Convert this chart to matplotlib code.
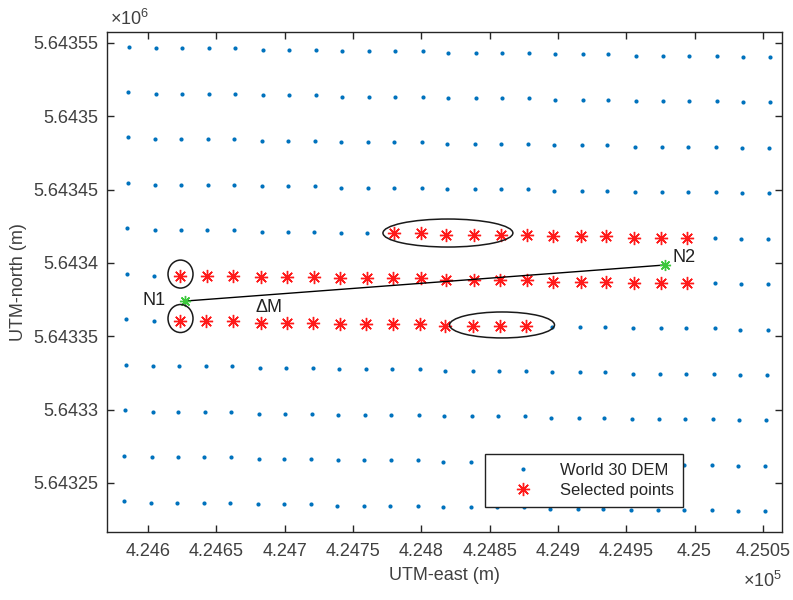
import matplotlib
matplotlib.use("Agg")
import matplotlib.pyplot as plt
from matplotlib.patches import Ellipse
from matplotlib.ticker import FuncFormatter, FixedLocator
from matplotlib.lines import Line2D
import numpy as np

plt.rcParams['font.family'] = ['Liberation Sans', 'DejaVu Sans']
plt.rcParams['mathtext.fontset'] = 'custom'
plt.rcParams['mathtext.rm'] = 'Liberation Sans'
plt.rcParams['mathtext.it'] = 'Liberation Sans:italic'

# ---------------- data ----------------
# World 30 DEM grid: eastings of the columns along the top row (m)
col_east = [424585.9, 424605.9, 424624.9, 424644.6, 424663.7, 424684.2, 424703.2,
            424722.9, 424742.0, 424761.7, 424780.8, 424801.2, 424819.5, 424840.0,
            424859.1, 424878.8, 424897.8, 424918.3, 424936.6, 424957.1, 424976.9,
            424995.9, 425016.4, 425035.4, 425055.2]
# northings of the rows along the left column (m)
row_north = [5643547.6, 5643516.6, 5643485.6, 5643454.6, 5643423.6, 5643392.6,
             5643361.6, 5643330.6, 5643299.6, 5643268.6, 5643237.6]
# small tilt of the lat/lon grid in UTM: northing drop per column, easting shift per row (m)
col_drop = [0.0, 1.2, 1.2, 1.2, 1.2, 2.3, 2.3, 2.3, 3.2, 3.2, 3.2, 3.2, 4.3,
            4.3, 4.3, 4.3, 5.3, 5.3, 5.3, 6.3, 6.3, 6.3, 6.3, 7.0, 7.0]
row_shift = [0.0, -0.2, -0.5, -0.7, -1.1, -1.5, -1.8, -2.2, -2.6, -3.3, -3.7]

# selected points: grid row index with first/last selected column index
sel_rows = [4, 5, 6]
sel_first = [10, 2, 2]
sel_last = [21, 21, 15]

# profile end points N1, N2 (m)
n1_e, n1_n = 424627.1, 5643374.0
n2_e, n2_n = 424978.3, 5643398.6

x_ticks = [424600, 424650, 424700, 424750, 424800, 424850, 424900, 424950, 425000, 425050]
y_ticks = [5643250, 5643300, 5643350, 5643400, 5643450, 5643500, 5643550]

# ---------------- figure ----------------
fig = plt.figure(figsize=(7.93, 6.0), dpi=100)
ax = fig.add_axes([107 / 793, 68 / 600, 675 / 793, 500 / 600])

E = np.array(col_east)[None, :] + np.array(row_shift)[:, None]
N = np.array(row_north)[:, None] - np.array(col_drop)[None, :]

blue = '#0072BD'
ax.plot(E.ravel(), N.ravel(), linestyle='none', marker='o', markersize=3.0,
        markerfacecolor=blue, markeredgecolor='none', zorder=2)

se, sn = [], []
for r, a, b in zip(sel_rows, sel_first, sel_last):
    se.extend(E[r, a:b + 1])
    sn.extend(N[r, a:b + 1])
star = (8, 2, 0)
ax.plot(se, sn, linestyle='none', marker=star, markersize=9.5, markeredgewidth=1.0,
        color='#ff1a1a', zorder=3)

# profile line and end points
ax.plot([n1_e, n2_e], [n1_n, n2_n], color='black', lw=1.0, zorder=4)
ax.plot([n1_e, n2_e], [n1_n, n2_n], linestyle='none', marker=star, markersize=8,
        markeredgewidth=1.0, color='#3cc83c', zorder=5)

# ellipses highlighting points
ell_c = [(424623.8, 5643392.4), (424623.8, 5643362.1), (424819.5, 5643420.4), (424859.1, 5643357.7)]
ell_w = [18.3, 18.3, 95.1, 76.8]
ell_h = [19.1, 19.1, 19.1, 17.7]
for c, w, h in zip(ell_c, ell_w, ell_h):
    ax.add_patch(Ellipse(c, w, h, fill=False, edgecolor='#1a1a1a', lw=1.1, zorder=6))

ax.text(424604.8, 5643374.7, 'N1', fontsize=13, ha='center', va='center', color='#222222')
ax.text(424992.2, 5643404.0, 'N2', fontsize=13, ha='center', va='center', color='#222222')
ax.text(424688.2, 5643369.9, 'ΔM', fontsize=13, ha='center', va='center', color='#222222')

ax.set_xlim(424570.0, 425064.0)
ax.set_ylim(5643216.5, 5643557.5)
ax.xaxis.set_major_locator(FixedLocator(x_ticks))
ax.yaxis.set_major_locator(FixedLocator(y_ticks))
ax.xaxis.set_major_formatter(FuncFormatter(lambda v, p: f"{v / 1e5:g}"))
ax.yaxis.set_major_formatter(FuncFormatter(lambda v, p: f"{v / 1e6:g}"))

tc = '#404040'
ax.tick_params(axis='both', direction='in', length=5, width=1.0, top=True, right=True,
               labelsize=13, colors='#262626', labelcolor=tc)
ax.tick_params(axis='x', pad=8)
ax.tick_params(axis='y', pad=6)
for s in ax.spines.values():
    s.set_color('#262626')
    s.set_linewidth(1.0)

ax.set_xlabel('UTM-east (m)', fontsize=13, color=tc)
ax.set_ylabel('UTM-north (m)', fontsize=13, color=tc)
ax.xaxis.set_label_coords(0.5, -0.07)
ax.yaxis.set_label_coords(-0.1185, 0.5)

ax.text(0.004, 1.006, r'×10$^{6}$', transform=ax.transAxes, fontsize=13,
        ha='left', va='bottom', color=tc)
ax.text(1.0, -0.098, r'×10$^{5}$', transform=ax.transAxes, fontsize=13,
        ha='right', va='center', color=tc)

handles = [Line2D([], [], linestyle='none', marker='o', markersize=3.0,
                  markerfacecolor=blue, markeredgecolor='none'),
           Line2D([], [], linestyle='none', marker=star, markersize=9.5,
                  markeredgewidth=1.0, color='#ff1a1a')]
leg = ax.legend(handles, ['World 30 DEM', 'Selected points'], loc='lower right',
                bbox_to_anchor=(0.853, 0.05), borderaxespad=0, fontsize=12,
                frameon=True, fancybox=False, framealpha=1, edgecolor='#222222',
                handlelength=3.5, handletextpad=0.45, borderpad=0.55, labelspacing=0.3,
                numpoints=1)
leg.get_frame().set_linewidth(1.0)
for t in leg.get_texts():
    t.set_color('#262626')

fig.savefig('out.png', dpi=100)
